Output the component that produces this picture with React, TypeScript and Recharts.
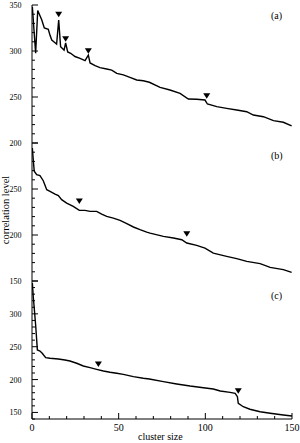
import React from 'react';
import { ComposedChart, Line, Scatter, XAxis, YAxis } from 'recharts';

// cluster size vs correlation level, three panels
const panelA = [
    { x: 0.2, y: 348 }, { x: 2.1, y: 297.5 }, { x: 3.3, y: 344 }, { x: 5.6, y: 334 }, { x: 7.1, y: 325 },
    { x: 9.4, y: 323.5 }, { x: 10.4, y: 317 }, { x: 11.4, y: 312 }, { x: 13.3, y: 309 }, { x: 14.2, y: 307.6 },
    { x: 15.4, y: 333.7 }, { x: 16.5, y: 304.7 }, { x: 18.5, y: 301 }, { x: 19.4, y: 308.7 }, { x: 20.6, y: 299 },
    { x: 22.3, y: 297.5 }, { x: 24.8, y: 294 }, { x: 27.7, y: 292 }, { x: 30.6, y: 289.5 }, { x: 32.5, y: 295.6 },
    { x: 33.5, y: 287 }, { x: 36.4, y: 284 }, { x: 39.2, y: 282 }, { x: 43.1, y: 280.4 }, { x: 46, y: 279.3 },
    { x: 48.9, y: 275.7 }, { x: 52.7, y: 274 }, { x: 56.5, y: 271.4 }, { x: 60.4, y: 268.5 }, { x: 64.2, y: 267.7 },
    { x: 67.7, y: 266 }, { x: 73.9, y: 260.5 }, { x: 79.6, y: 257.6 }, { x: 85.4, y: 254 }, { x: 90.2, y: 247.8 },
    { x: 95, y: 247.5 }, { x: 99.8, y: 246.7 }, { x: 101.2, y: 242.4 }, { x: 106.6, y: 239.5 }, { x: 112.3, y: 237.7 },
    { x: 118.1, y: 235.9 }, { x: 123.9, y: 234 }, { x: 127.7, y: 230.4 }, { x: 133.5, y: 228.6 }, { x: 139.3, y: 224.3 },
    { x: 145, y: 222.5 }, { x: 149.8, y: 218.5 },
];
const panelB = [
    { x: 0.2, y: 294.5 }, { x: 0.8, y: 280 }, { x: 1.3, y: 269.3 }, { x: 2.7, y: 265.6 }, { x: 4.6, y: 264.5 },
    { x: 6.5, y: 259 }, { x: 8.5, y: 249.3 }, { x: 10.4, y: 247.5 }, { x: 13.3, y: 244.5 }, { x: 15.2, y: 242.8 },
    { x: 17.1, y: 238.4 }, { x: 20, y: 234.7 }, { x: 23.8, y: 231 }, { x: 27.3, y: 226.8 }, { x: 30.6, y: 226.8 },
    { x: 33.5, y: 225.7 }, { x: 37.3, y: 225.7 }, { x: 40.2, y: 222.8 }, { x: 43.1, y: 220.3 }, { x: 46.9, y: 218.4 },
    { x: 50.8, y: 215.9 }, { x: 54.7, y: 212.3 }, { x: 58.5, y: 208.7 }, { x: 62.3, y: 205.8 }, { x: 66.2, y: 203.2 },
    { x: 68.1, y: 202.1 }, { x: 75.8, y: 198.5 }, { x: 81.6, y: 196.7 }, { x: 86.4, y: 194.9 }, { x: 89.3, y: 191.3 },
    { x: 95, y: 188.8 }, { x: 99.8, y: 185.8 }, { x: 104.6, y: 180.3 }, { x: 112.3, y: 176.8 }, { x: 118.1, y: 174.3 },
    { x: 123.9, y: 171.3 }, { x: 131.6, y: 168.9 }, { x: 137.4, y: 164.8 }, { x: 145, y: 162.3 }, { x: 149.8, y: 159.3 },
];
const panelC = [
    { x: 0.2, y: 347 }, { x: 0.8, y: 323.7 }, { x: 1.3, y: 308.5 }, { x: 2.1, y: 283 }, { x: 3.1, y: 245 },
    { x: 4.6, y: 243.5 }, { x: 5.9, y: 240 }, { x: 7.9, y: 233.3 }, { x: 10.4, y: 232.4 }, { x: 15.2, y: 231.3 },
    { x: 19, y: 229.8 }, { x: 21.9, y: 228.3 }, { x: 25.8, y: 224.8 }, { x: 29.6, y: 220.7 }, { x: 33.5, y: 218.1 },
    { x: 37.3, y: 215.6 }, { x: 41.2, y: 213.1 }, { x: 45, y: 211.1 }, { x: 48.9, y: 209.6 }, { x: 52.7, y: 208 },
    { x: 58.5, y: 204.4 }, { x: 64.2, y: 202 }, { x: 67.7, y: 200.9 }, { x: 75.8, y: 196.8 }, { x: 83.5, y: 193.3 },
    { x: 91.2, y: 190.2 }, { x: 98.9, y: 187.6 }, { x: 104.6, y: 185.7 }, { x: 108.6, y: 182.6 }, { x: 114.3, y: 180.6 },
    { x: 117.2, y: 179.1 }, { x: 118.5, y: 173.9 }, { x: 119, y: 163.9 }, { x: 121.9, y: 158.7 }, { x: 125.7, y: 154.8 },
    { x: 131.6, y: 151.1 }, { x: 137.4, y: 148.7 }, { x: 145, y: 146 }, { x: 150, y: 144.5 },
];

const markersA = [{ x: 15.4, y: 336.6 }, { x: 19.4, y: 310 }, { x: 32.5, y: 297 }, { x: 100.8, y: 248 }];
const markersB = [{ x: 27.3, y: 233.7 }, { x: 89.3, y: 198.2 }];
const markersC = [{ x: 38.3, y: 219.1 }, { x: 119, y: 178.5 }];

const xTicks = [0, 10, 20, 30, 40, 50, 60, 70, 80, 90, 100, 110, 120, 130, 140, 150];
const xLabels = [0, 50, 100, 150];
const yTicksA = [200, 210, 220, 230, 240, 250, 260, 270, 280, 290, 300, 310, 320, 330, 340, 350];
const yTicksB = [150, 160, 170, 180, 190, 200, 210, 220, 230, 240, 250, 260, 270, 280, 290, 300];
const yTicksC = [140, 150, 160, 170, 180, 190, 200, 210, 220, 230, 240, 250, 260, 270, 280, 290, 300, 310, 320, 330, 340, 350];
const yLabelsA = [200, 250, 300, 350];
const yLabelsB = [150, 200, 250];
const yLabelsC = [150, 200, 250, 300];

const FONT = '"Liberation Serif", "DejaVu Serif", serif';

const makeYTick = (labels: number[]) => (props: any) => {
    const { x, y, payload } = props;
    const v = payload.value;
    const major = v % 50 === 0;
    return (
        <g>
            <line x1={x} y1={y} x2={x + (major ? 6 : 3)} y2={y} stroke="#000" />
            {labels.includes(v) && (
                <text x={x - 10.5} y={y} dy={3} textAnchor="end" fontSize={8} fontFamily={FONT} fill="#000">{v}</text>
            )}
        </g>
    );
};

const makeXTick = (showLabels: boolean) => (props: any) => {
    const { x, y, payload } = props;
    const v = payload.value;
    const major = v % 50 === 0;
    return (
        <g>
            <line x1={x} y1={y} x2={x} y2={y - (major ? 6 : 3)} stroke="#000" />
            {showLabels && xLabels.includes(v) && (
                <text x={x} y={y} dy={12} textAnchor="middle" fontSize={10} fontFamily={FONT} fill="#000">{v}</text>
            )}
        </g>
    );
};

const triangle = (props: any) => {
    const { cx, cy } = props;
    return <polygon points={`${cx - 3.5},${cy - 5.5} ${cx + 3.5},${cy - 5.5} ${cx},${cy}`} fill="#000" />;
};

interface PanelProps {
    data: { x: number; y: number }[];
    markers: { x: number; y: number }[];
    yDomain: [number, number];
    yTicks: number[];
    yLabels: number[];
    height: number;
    top: number;
    marginTop: number;
    marginBottom: number;
    bottomAxis: number;
}

function Panel({ data, markers, yDomain, yTicks, yLabels, height, top, marginTop, marginBottom, bottomAxis }: PanelProps) {
    return (
        <div style={{ position: 'absolute', left: 0, top }}>
            <ComposedChart width={300} height={height} data={data}
                margin={{ top: marginTop, right: 8, bottom: marginBottom, left: 0 }}>
                <XAxis dataKey="x" type="number" domain={[0, 150]} ticks={xTicks} interval={0}
                    allowDataOverflow height={bottomAxis} tickSize={0} tickMargin={0}
                    axisLine={{ stroke: '#000' }} tickLine={false} tick={makeXTick(bottomAxis > 0)} />
                <XAxis xAxisId="top" orientation="top" dataKey="x" type="number" domain={[0, 150]}
                    height={0} tick={false} tickLine={false} axisLine={{ stroke: '#000' }} />
                <YAxis type="number" domain={yDomain} ticks={yTicks} interval={0} allowDataOverflow
                    width={32} tickSize={0} tickMargin={0} axisLine={{ stroke: '#000' }} tickLine={false}
                    tick={makeYTick(yLabels)} />
                <YAxis yAxisId="right" orientation="right" type="number" domain={yDomain}
                    width={0} tick={false} tickLine={false} axisLine={{ stroke: '#000' }} />
                <Line type="linear" dataKey="y" stroke="#000" strokeWidth={1.4} dot={false} isAnimationActive={false} />
                <Scatter data={markers} dataKey="y" shape={triangle} isAnimationActive={false} />
            </ComposedChart>
        </div>
    );
}

const labelStyle: React.CSSProperties = {
    position: 'absolute', fontFamily: FONT, fontSize: 10, color: '#000', lineHeight: '10px',
};

export default function App() {
    return (
        <div style={{ position: 'absolute', left: 0, top: 0, width: 300, height: 443, background: '#fff' }}>
            <Panel data={panelA} markers={markersA} yDomain={[200, 350]} yTicks={yTicksA} yLabels={yLabelsA}
                height={150} top={0} marginTop={5} marginBottom={7} bottomAxis={0} />
            <Panel data={panelB} markers={markersB} yDomain={[150, 300]} yTicks={yTicksB} yLabels={yLabelsB}
                height={152} top={136} marginTop={7} marginBottom={7} bottomAxis={0} />
            <Panel data={panelC} markers={markersC} yDomain={[140, 350]} yTicks={yTicksC} yLabels={yLabelsC}
                height={169} top={274} marginTop={7} marginBottom={0} bottomAxis={24} />
            <div style={{ ...labelStyle, left: 271, top: 11 }}>(a)</div>
            <div style={{ ...labelStyle, left: 271, top: 151 }}>(b)</div>
            <div style={{ ...labelStyle, left: 271, top: 291 }}>(c)</div>
            <div style={{ ...labelStyle, left: 138, top: 432 }}>cluster size</div>
            <div style={{
                ...labelStyle, fontSize: 10.5, left: 5.5, top: 210, whiteSpace: 'nowrap',
                transform: 'translate(-50%, -50%) rotate(-90deg)',
            }}>correlation level</div>
        </div>
    );
}
